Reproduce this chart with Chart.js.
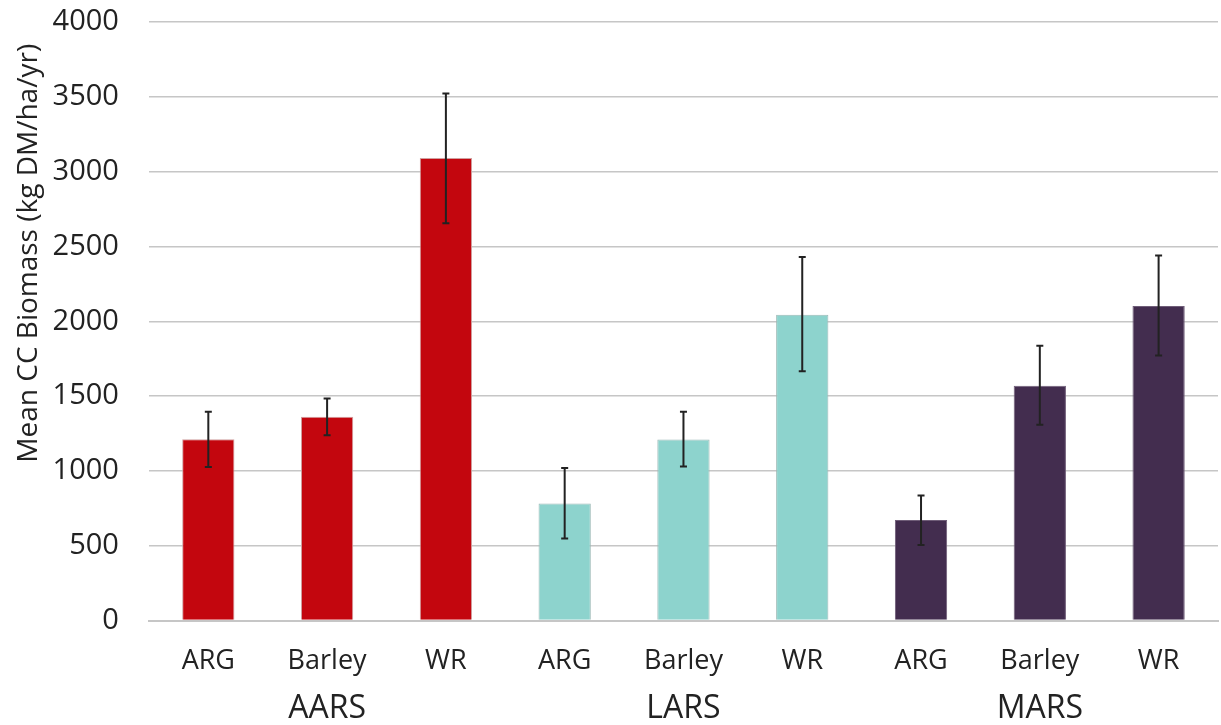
<!DOCTYPE html>
<html>
<head>
<meta charset="utf-8">
<script src="https://cdn.jsdelivr.net/npm/chart.js@4.4.1/dist/chart.umd.min.js"></script>
<style>
  html, body { margin: 0; padding: 0; background: #fff; }
  #wrap { width: 1221px; height: 725px; position: relative; }
</style>
</head>
<body>
<div id="wrap"><canvas id="chart"></canvas></div>
<script>
const categories = ["ARG", "Barley", "WR", "ARG", "Barley", "WR", "ARG", "Barley", "WR"];
const groups = ["AARS", "LARS", "MARS"];
const means = [1212, 1362, 3092, 783, 1210, 2043, 673, 1570, 2103];
const errLow = [1026, 1238, 2656, 548, 1030, 1666, 505, 1309, 1771];
const errHigh = [1396, 1484, 3523, 1020, 1396, 2430, 836, 1836, 2440];
const yTicks = [0, 500, 1000, 1500, 2000, 2500, 3000, 3500, 4000];

const groupColors = ["#c3060e", "#8dd3cd", "#432d4f"];
const groupBorders = ["#d0a0a0", "#9cb9b6", "#6f5d78"];
const barColors = categories.map((c, i) => groupColors[Math.floor(i / 3)]);
const barBorders = categories.map((c, i) => groupBorders[Math.floor(i / 3)]);

const FONT = "'Open Sans', 'DejaVu Sans', sans-serif";

// whiskers drawn from the y scale
const errorBars = {
  id: "errorBars",
  afterDatasetsDraw(chart) {
    const ctx = chart.ctx;
    const y = chart.scales.y;
    const meta = chart.getDatasetMeta(0);
    ctx.save();
    ctx.strokeStyle = "#222";
    ctx.lineWidth = 2;
    meta.data.forEach((bar, i) => {
      const x = bar.x;
      const top = y.getPixelForValue(errHigh[i]);
      const bot = y.getPixelForValue(errLow[i]);
      ctx.beginPath();
      ctx.moveTo(x, top);
      ctx.lineTo(x, bot);
      ctx.moveTo(x - 3.5, top);
      ctx.lineTo(x + 3.5, top);
      ctx.moveTo(x - 3.5, bot);
      ctx.lineTo(x + 3.5, bot);
      ctx.stroke();
    });
    ctx.restore();
  }
};

// station names centred under each group of three categories
const groupLabels = {
  id: "groupLabels",
  afterDraw(chart) {
    const ctx = chart.ctx;
    const x = chart.scales.x;
    ctx.save();
    ctx.fillStyle = "#222";
    ctx.font = "32px " + FONT;
    ctx.textAlign = "center";
    ctx.textBaseline = "middle";
    groups.forEach((g, k) => {
      const cx = (x.getPixelForValue(k * 3) + x.getPixelForValue(k * 3 + 2)) / 2;
      ctx.fillText(g, cx, x.bottom + 6);
    });
    ctx.restore();
  }
};

new Chart(document.getElementById("chart"), {
  type: "bar",
  data: {
    labels: categories,
    datasets: [{
      data: means,
      backgroundColor: barColors,
      borderColor: barBorders,
      borderWidth: 1,
      barPercentage: 0.44,
      categoryPercentage: 1
    }]
  },
  options: {
    responsive: true,
    maintainAspectRatio: false,
    animation: false,
    layout: { padding: { top: 22, right: 3, left: 12, bottom: 22 } },
    plugins: {
      legend: { display: false },
      tooltip: { enabled: false }
    },
    scales: {
      x: {
        position: "bottom",
        grid: { display: false, drawTicks: false },
        border: { display: true, color: "#c6c6c6", width: 2 },
        ticks: {
          color: "#222",
          font: { family: FONT, size: 27 },
          padding: 25,
          maxRotation: 0,
          autoSkip: false
        }
      },
      y: {
        min: 0,
        max: 4000,
        afterBuildTicks: axis => {
          axis.ticks = yTicks.map(v => ({ value: v }));
        },
        grid: {
          color: "#c6c6c6",
          lineWidth: 1.5,
          drawTicks: true,
          tickLength: 30,
          tickColor: "rgba(0,0,0,0)"
        },
        border: { display: false },
        ticks: {
          color: "#222",
          font: { family: FONT, size: 29 },
          padding: 0,
          callback: v => String(v)
        },
        title: {
          display: true,
          align: "end",
          text: "Mean CC Biomass (kg DM/ha/yr)   ",
          color: "#222",
          font: { family: FONT, size: 28 },
          padding: { top: 0, bottom: 7 }
        }
      }
    }
  },
  plugins: [errorBars, groupLabels]
});
</script>
</body>
</html>
